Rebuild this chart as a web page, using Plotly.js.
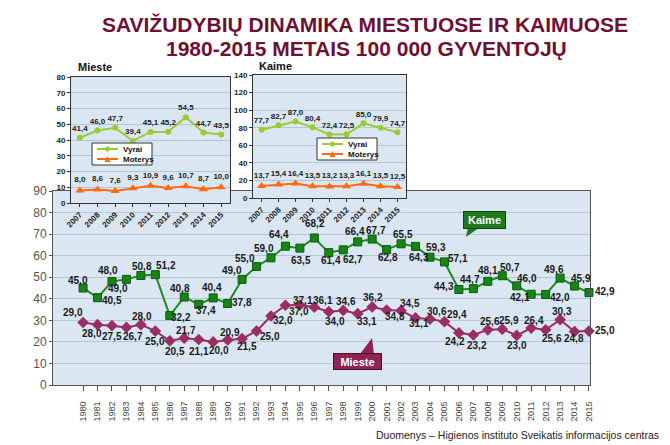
<!DOCTYPE html>
<html><head><meta charset="utf-8">
<script src="https://cdn.plot.ly/plotly-3.0.1.min.js"></script>
<style>html,body{margin:0;padding:0;background:#fff}#chart{width:670px;height:445px}</style>
</head><body><div id="chart"></div>
<script>
// ---- data ----
const years = [1980,1981,1982,1983,1984,1985,1986,1987,1988,1989,1990,1991,1992,1993,1994,1995,1996,1997,1998,1999,2000,2001,2002,2003,2004,2005,2006,2007,2008,2009,2010,2011,2012,2013,2014,2015];
const kaime = [45.0,40.5,48.0,49.0,50.8,51.2,32.2,40.8,37.4,40.4,37.8,49.0,55.0,59.0,64.4,63.5,68.2,61.4,62.7,66.4,67.7,62.8,65.5,64.3,59.3,57.1,44.3,44.7,48.1,50.7,46.0,42.1,42.0,49.6,45.9,42.9];
const mieste = [29.0,28.0,27.5,26.7,28.0,25.0,20.5,21.7,21.1,20.0,20.9,21.5,25.0,32.0,37.0,37.1,36.1,34.0,34.6,33.1,36.2,34.8,34.5,31.1,30.6,29.4,24.2,23.2,25.6,25.9,23.0,26.4,25.6,30.3,24.8,25.0];

const insetYears = [2007,2008,2009,2010,2011,2012,2013,2014,2015];
const miesteVyrai = [41.4,46.0,47.7,39.4,45.1,45.2,54.5,44.7,43.5];
const miesteMoterys = [8.0,8.6,7.6,9.3,10.9,9.6,10.7,8.7,10.0];
const kaimeVyrai = [77.7,82.7,87.0,80.4,72.4,72.5,85.0,79.9,74.7];
const kaimeMoterys = [13.7,15.4,16.4,13.5,13.2,13.3,16.1,13.5,12.5];
const seriesNames = ['Vyrai','Moterys'];

// ---- label placement (pixel offsets of each value label from its point; style only) ----
const kaimeDx = [-5,14,-4,-8,1,11,11,-4,7,-1,14,-10,-12,-7,-6,1,1,2,10,-3,4,1,2,3,6,14,-15,-3,0,8,10,-11,14,-6,6,16];
const kaimeDy = [-8,3,-11,9,-9,-9,2,-9,6,-10,-1,-9,-8,-9,-12,12,-14,8,10,-10,-9,8,-9,11,-10,-3,-3,-9,-11,-8,-7,3,3,-9,-8,-1];
const miesteDx = [-10,-6,0,7,1,0,5,2,0,6,2,5,13,12,14,3,9,6,3,9,1,8,9,3,7,13,-4,4,2,7,0,3,6,2,-1,16];
const miesteDy = [-10,9,11,9,-8,10,11,-8,12,9,-7,8,5,4,6,-5,-7,10,-9,8,-9,7,-7,6,-8,-7,9,11,-8,-9,10,-8,9,-8,7,-1];

// ---- helpers ----
const W = 670, H = 445;
const px = x => x / W, py = y => 1 - y / H;
const fmt = v => v.toFixed(1).replace('.', ',');
const FONT = 'Liberation Sans, Arial, sans-serif';
const GREEN = '#1f8a1f', PURPLE = '#9a2d63', TITLE = '#6d1034';
const VY = '#99cc33', MO = '#ff6a10';
const labelFont = {family:FONT, size:10, color:'#1a1a1a', weight:'bold'};
const insetLabelFont = {family:FONT, size:8, color:'#222', weight:'bold'};

const traces = [
  {x: years, y: kaime, xaxis:'x', yaxis:'y', mode:'lines+markers', showlegend:false, cliponaxis:false,
   line:{color:GREEN, width:2}, marker:{symbol:'square', size:8, color:'#168416', line:{color:'#0d5c0d', width:1}}, hoverinfo:'skip'},
  {x: years, y: mieste, xaxis:'x', yaxis:'y', mode:'lines+markers', showlegend:false, cliponaxis:false,
   line:{color:PURPLE, width:2}, marker:{symbol:'diamond', size:9, color:PURPLE}, hoverinfo:'skip'},
  // inset Mieste
  {x: insetYears, y: miesteVyrai, xaxis:'x2', yaxis:'y2', name:seriesNames[0], showlegend:false, mode:'lines+markers+text',
   text: miesteVyrai.map(fmt), textposition:'top center', cliponaxis:false, textfont: insetLabelFont,
   line:{color:VY, width:2}, marker:{symbol:'circle', size:6, color:VY}},
  {x: insetYears, y: miesteMoterys, xaxis:'x2', yaxis:'y2', name:seriesNames[1], showlegend:false, mode:'lines+markers+text',
   text: miesteMoterys.map(fmt), textposition:'top center', cliponaxis:false, textfont: insetLabelFont,
   line:{color:MO, width:2}, marker:{symbol:'triangle-up', size:8, color:MO}},
  // inset Kaime
  {x: insetYears, y: kaimeVyrai, xaxis:'x3', yaxis:'y3', name:seriesNames[0], showlegend:false, mode:'lines+markers+text',
   text: kaimeVyrai.map(fmt), textposition:'top center', cliponaxis:false, textfont: insetLabelFont,
   line:{color:VY, width:2}, marker:{symbol:'circle', size:6, color:VY}},
  {x: insetYears, y: kaimeMoterys, xaxis:'x3', yaxis:'y3', name:seriesNames[1], showlegend:false, mode:'lines+markers+text',
   text: kaimeMoterys.map(fmt), textposition:'top center', cliponaxis:false, textfont: insetLabelFont,
   line:{color:MO, width:2}, marker:{symbol:'triangle-up', size:8, color:MO}}
];

const gridC = '#b5c6d6';
const smallTick = {family:FONT, size:8, color:'#222', weight:'bold'};
const insetX = (dom, anchor) => ({domain:dom, anchor:anchor, range:[2006.5,2015.5], tickmode:'array', tickvals:insetYears,
  ticktext: insetYears.map(String), tickangle:-45, tickfont:smallTick, showline:true, mirror:true, linecolor:'#333', linewidth:1,
  ticks:'outside', ticklen:3, tickcolor:'#333', showgrid:false, zeroline:false});
const insetY = (dom, anchor, max, step) => ({domain:dom, anchor:anchor, range:[0,max], tickmode:'linear', tick0:0, dtick:step,
  tickfont:smallTick, showline:true, mirror:true, linecolor:'#333', linewidth:1,
  ticks:'outside', ticklen:3, tickcolor:'#333', showgrid:true, gridcolor:gridC, zeroline:false});

// compact legend boxes for the insets
function legendBox(x0, y0) {
  const shapes = [
    {type:'rect', xref:'paper', yref:'paper', x0:px(x0), x1:px(x0+60), y0:py(y0+22), y1:py(y0), fillcolor:'#ffffff', line:{color:'#333', width:1}},
    {type:'line', xref:'paper', yref:'paper', x0:px(x0+5), x1:px(x0+26), y0:py(y0+6), y1:py(y0+6), line:{color:VY, width:2}},
    {type:'circle', xref:'paper', yref:'paper', x0:px(x0+13), x1:px(x0+18), y0:py(y0+8.5), y1:py(y0+3.5), fillcolor:VY, line:{color:VY, width:0}},
    {type:'line', xref:'paper', yref:'paper', x0:px(x0+5), x1:px(x0+26), y0:py(y0+16), y1:py(y0+16), line:{color:MO, width:2}},
    {type:'path', xref:'paper', yref:'paper', path:`M ${px(x0+12.5)} ${py(y0+19)} L ${px(x0+18.5)} ${py(y0+19)} L ${px(x0+15.5)} ${py(y0+13)} Z`, fillcolor:MO, line:{width:0}}
  ];
  const ann = [
    {text:seriesNames[0], xref:'paper', yref:'paper', x:px(x0+29), y:py(y0+6), xanchor:'left', yanchor:'middle', showarrow:false, font:{family:FONT, size:8, color:'#111', weight:'bold'}},
    {text:seriesNames[1], xref:'paper', yref:'paper', x:px(x0+29), y:py(y0+16), xanchor:'left', yanchor:'middle', showarrow:false, font:{family:FONT, size:8, color:'#111', weight:'bold'}}
  ];
  return {shapes, ann};
}
const lgM = legendBox(92, 143), lgK = legendBox(317, 138);

// value labels of the main chart, placed through the data axes
const valueLabels = [];
years.forEach((yr, i) => {
  valueLabels.push({x:yr, y:kaime[i], xref:'x', yref:'y', text:fmt(kaime[i]), showarrow:false,
    xshift:kaimeDx[i], yshift:-kaimeDy[i], xanchor:'center', yanchor:'middle', font:labelFont, borderpad:0});
  valueLabels.push({x:yr, y:mieste[i], xref:'x', yref:'y', text:fmt(mieste[i]), showarrow:false,
    xshift:miesteDx[i], yshift:-miesteDy[i], xanchor:'center', yanchor:'middle', font:labelFont, borderpad:0});
});

const titleFont = {family:FONT, size:21, color:TITLE, weight:'bold'};

const layout = {
  width:W, height:H, margin:{l:0,r:0,t:0,b:0},
  paper_bgcolor:'#ffffff', plot_bgcolor:'#dae7f3',
  font:{family:FONT}, showlegend:false,
  title:{text:'SAVIŽUDYBIŲ DINAMIKA MIESTUOSE IR KAIMUOSE', x:px(365), xanchor:'center', xref:'paper',
         y:py(25), yanchor:'middle', yref:'container', font:titleFont},
  xaxis:{domain:[px(53), px(590)], anchor:'y', range:[1977.92, 2015.07], tickmode:'array', tickvals:years, ticktext:years.map(String),
         tickangle:-90, tickfont:{family:FONT, size:9, color:'#444'}, showline:true, mirror:true, linecolor:'#555', linewidth:1,
         ticks:'outside', ticklen:5, tickcolor:'#555', ticklabelstandoff:7, showgrid:false, zeroline:false},
  yaxis:{domain:[py(385), py(191)], anchor:'x', range:[0,90], tickmode:'linear', tick0:0, dtick:10,
         tickfont:{family:FONT, size:12, color:'#555'}, showline:true, mirror:true, linecolor:'#555', linewidth:1,
         ticks:'outside', ticklen:3, tickcolor:'#555', showgrid:true, gridcolor:gridC, zeroline:false},
  xaxis2: insetX([px(71), px(230)], 'y2'),
  yaxis2: insetY([py(203), py(77)], 'x2', 80, 10),
  xaxis3: insetX([px(253), px(406)], 'y3'),
  yaxis3: insetY([py(198), py(75)], 'x3', 140, 20),
  shapes:[
    {type:'path', xref:'paper', yref:'paper', path:`M ${px(468)} ${py(227)} L ${px(480)} ${py(227)} L ${px(466)} ${py(237)} Z`,
     fillcolor:'#1e7a1e', line:{width:0}},
    {type:'path', xref:'paper', yref:'paper', path:`M ${px(360)} ${py(354)} L ${px(374)} ${py(354)} L ${px(372)} ${py(338)} Z`,
     fillcolor:'#8c2455', line:{width:0}}
  ].concat(lgM.shapes, lgK.shapes),
  annotations:[
    {text:'1980-2015 METAIS 100 000 GYVENTOJŲ', xref:'paper', yref:'paper', x:px(366), y:py(48.5), xanchor:'center', yanchor:'middle',
     showarrow:false, font:titleFont},
    {text:'Mieste', xref:'paper', yref:'paper', x:px(76), y:py(67), xanchor:'left', yanchor:'middle', showarrow:false,
     font:{family:FONT, size:11, color:'#111', weight:'bold'}},
    {text:'Kaime', xref:'paper', yref:'paper', x:px(257), y:py(66), xanchor:'left', yanchor:'middle', showarrow:false,
     font:{family:FONT, size:11, color:'#111', weight:'bold'}},
    {text:'<b>Kaime</b>', xref:'paper', yref:'paper', x:px(484), y:py(220), xanchor:'center', yanchor:'middle', showarrow:false,
     width:39, height:14, bgcolor:'#1e7a1e', bordercolor:'#0c4a0c', borderwidth:1, borderpad:1,
     font:{family:FONT, size:11, color:'#ffffff'}},
    {text:'<b>Mieste</b>', xref:'paper', yref:'paper', x:px(357), y:py(361), xanchor:'center', yanchor:'middle', showarrow:false,
     width:45, height:13, bgcolor:'#8c2455', bordercolor:'#4a0e2a', borderwidth:1, borderpad:1,
     font:{family:FONT, size:11, color:'#ffffff'}},
    {text:'Duomenys – Higienos instituto Sveikatis informacijos centras', xref:'paper', yref:'paper', x:px(661), y:py(435),
     xanchor:'right', yanchor:'middle', showarrow:false, font:{family:FONT, size:10.5, color:'#222'}}
  ].concat(lgM.ann, lgK.ann, valueLabels)
};

Plotly.newPlot('chart', traces, layout, {displayModeBar:false, staticPlot:true});
</script></body></html>
